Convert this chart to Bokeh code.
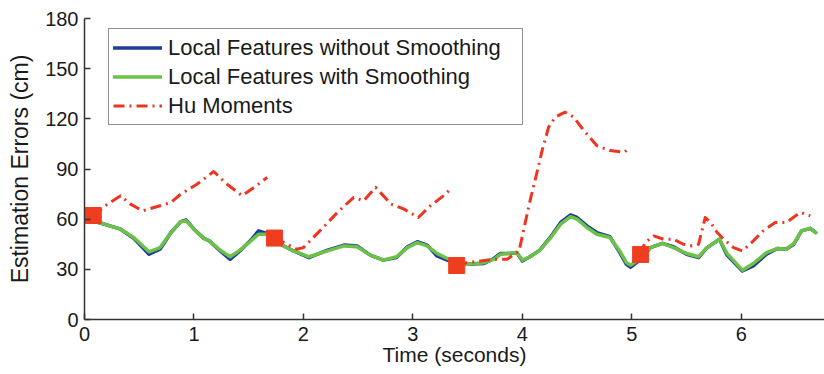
import numpy as np
from bokeh.plotting import figure
from bokeh.models import FixedTicker, Range1d
from bokeh.embed import file_html
from bokeh.resources import INLINE

# Time stamps (seconds) shared by the two local-feature tracks
t_local = [0.0, 0.13, 0.33, 0.45, 0.59, 0.69, 0.79, 0.88, 0.93, 1.0, 1.09, 1.14, 1.24, 1.33,
           1.42, 1.52, 1.59, 1.67, 1.79, 1.91, 2.05, 2.22, 2.37, 2.49, 2.61, 2.73, 2.85, 2.95,
           3.04, 3.13, 3.22, 3.33, 3.40, 3.49, 3.65, 3.74, 3.80, 3.89, 3.95, 4.0, 4.07, 4.16,
           4.26, 4.35, 4.44, 4.50, 4.59, 4.68, 4.80, 4.89, 4.95, 4.99, 5.08, 5.17, 5.28, 5.38,
           5.50, 5.61, 5.68, 5.80, 5.87, 6.01, 6.11, 6.23, 6.33, 6.41, 6.48, 6.55, 6.63, 6.68]

# Estimation error (cm), local features with smoothing
err_smooth = [60, 58, 54, 49, 40.5, 43, 52, 58.5, 59, 54, 48.5, 47, 41.5, 37.5,
              41.5, 47, 51, 51, 45, 41, 37.5, 41, 44, 43.5, 38.5, 35.5, 37.5, 43,
              46, 44, 39.5, 36, 33, 33, 34, 36, 39, 39.7, 40, 35.5, 37.5, 41.5,
              49, 57, 61.5, 60, 55, 51, 49, 41, 34, 32.5, 36.5, 43, 45.5, 43,
              39.5, 37.5, 42.5, 48, 39.5, 29.5, 33.5, 40, 42.5, 42, 45.5, 53, 54.5, 52]

# Estimation error (cm), local features without smoothing
err_raw = [60, 58, 54, 48.5, 39, 42, 52, 58.5, 59.5, 54, 48.5, 47, 41, 36,
           41, 47.5, 53, 51.5, 45, 41, 37, 41.5, 44.5, 44, 38.5, 35.5, 37, 43.5,
           46.5, 44.5, 38, 35, 32.5, 33, 33.5, 36.5, 39.5, 39.5, 40, 35, 37.5, 41.5,
           49.5, 58, 62.5, 61, 56, 52, 49.5, 40, 33, 31.3, 36, 43, 45.5, 43.5,
           39, 37, 42.5, 48, 38.5, 29, 32, 39, 42.5, 42, 45, 53, 54.5, 52]

# Hu moment baseline; NaN marks the breaks between tracking segments
t_hu = [0.08, 0.21, 0.33, 0.42, 0.53, 0.69, 0.79, 0.88, 1.03, 1.18, 1.30, 1.44, 1.55, 1.67,
        np.nan,
        1.735, 1.79, 1.94, 2.0, 2.15, 2.31, 2.46, 2.55, 2.66, 2.80, 2.92, 3.05, 3.16, 3.30, 3.34,
        np.nan,
        3.40, 3.49, 3.62, 3.74, 3.86, 3.97, 4.01, 4.07, 4.13, 4.18, 4.24, 4.30, 4.39, 4.47,
        4.56, 4.68, 4.80, 4.93, 4.97,
        np.nan,
        5.08, 5.12, 5.20, 5.29, 5.38, 5.47, 5.55, 5.61, 5.64, 5.67, 5.72, 5.78, 5.84, 5.93,
        6.01, 6.11, 6.20, 6.31, 6.41, 6.54, 6.63, 6.68]
err_hu = [62, 69, 74, 69, 65, 68, 70, 75, 81, 88.5, 81, 74, 79, 85,
          np.nan,
          48.5, 47, 42, 43, 53, 64, 73, 71, 79, 69, 66, 61, 68, 75, 78,
          np.nan,
          32.3, 34, 35, 36, 36, 41, 53, 71, 87, 101, 115, 121, 124, 121,
          113, 104, 101, 100, 102,
          np.nan,
          38.9, 46, 50, 48, 48, 45, 44, 45, 53, 61, 58, 52, 48, 43,
          41, 47, 53, 58, 58, 64, 62]

# Re-initialisation points
t_init = [0.08, 1.735, 3.40, 5.08]
err_init = [62.2, 48.7, 32.3, 38.9]

x_ticks = [0, 1, 2, 3, 4, 5, 6]
y_ticks = [0, 30, 60, 90, 120, 150, 180]

FONT = "Liberation Sans"

p = figure(width=824, height=374, output_backend="svg", toolbar_location=None,
           x_range=Range1d(0, 6.76), y_range=Range1d(0, 180),
           min_border_left=84, min_border_right=0, min_border_top=18, min_border_bottom=55)

p.outline_line_color = None
p.xgrid.grid_line_color = None
p.ygrid.grid_line_color = None
p.background_fill_color = "white"
p.border_fill_color = "white"

BLUE = "#1f3d98"
GREEN = "#6cc247"
RED = "#ee3522"

p.line(t_local, err_raw, color=BLUE, line_width=3.5, line_join="round", line_cap="round",
       legend_label="Local Features without Smoothing")
p.line(t_local, err_smooth, color=GREEN, line_width=3.5, line_join="round", line_cap="round",
       legend_label="Local Features with Smoothing")
p.line(t_hu, err_hu, color=RED, line_width=3, line_dash="11 5 2 5", line_join="round",
       legend_label="Hu Moments")
p.scatter(t_init, err_init, marker="square", size=16, color="#ef3d20", line_color="#ef3d20")

for ax in (p.xaxis[0], p.yaxis[0]):
    ax.axis_line_color = "#333333"
    ax.axis_line_width = 1.5
    ax.major_tick_line_color = "#333333"
    ax.major_tick_line_width = 1.5
    ax.major_tick_in = 6
    ax.major_tick_out = 0
    ax.minor_tick_line_color = None
    ax.major_label_text_font = FONT
    ax.major_label_text_font_size = "20px"
    ax.major_label_text_color = "#1a1a1a"
    ax.axis_label_text_font = FONT
    ax.axis_label_text_font_style = "normal"
    ax.axis_label_text_color = "#1a1a1a"

p.xaxis.ticker = FixedTicker(ticks=x_ticks)
p.yaxis.ticker = FixedTicker(ticks=y_ticks)
p.xaxis.axis_label = "Time (seconds)"
p.yaxis.axis_label = "Estimation Errors (cm)"
p.xaxis.axis_label_text_font_size = "21px"
p.yaxis.axis_label_text_font_size = "23px"
p.xaxis.major_label_standoff = 7
p.yaxis.major_label_standoff = 6
p.xaxis.axis_label_standoff = -1
p.yaxis.axis_label_standoff = 9

lg = p.legend[0]
lg.location = (24, 194)
lg.margin = 0
lg.padding = 4
lg.spacing = 0
lg.glyph_width = 49
lg.glyph_height = 29
lg.label_height = 29
lg.label_width = 350
lg.label_standoff = 6
lg.label_text_font = FONT
lg.label_text_font_size = "22px"
lg.label_text_color = "#1a1a1a"
lg.border_line_color = "#222222"
lg.border_line_width = 1.5
lg.background_fill_alpha = 1.0

open("out.html", "w").write(file_html(p, INLINE))
